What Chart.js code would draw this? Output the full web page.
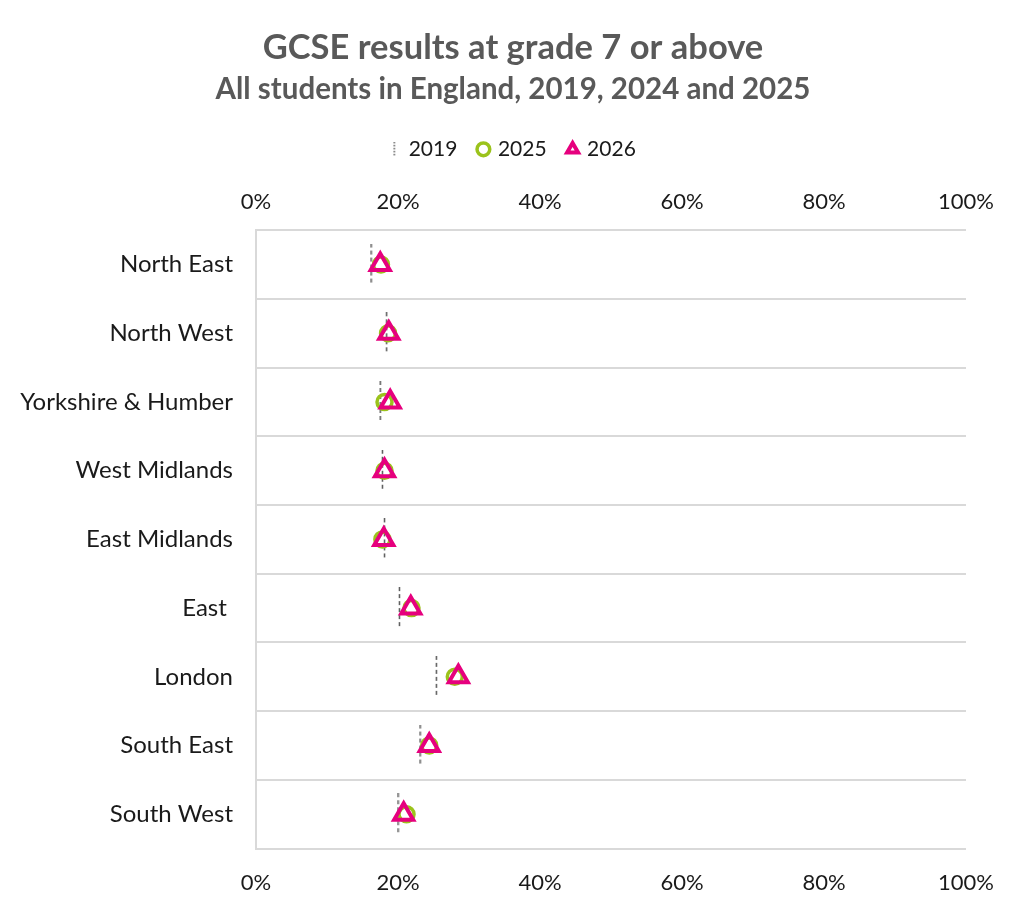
<!DOCTYPE html>
<html>
<head>
<meta charset="utf-8">
<script src="https://cdn.jsdelivr.net/npm/chart.js@4/dist/chart.umd.min.js"></script>
<style>
  html, body { margin: 0; padding: 0; background: #fff; }
  #wrap { width: 1024px; height: 910px; }
</style>
</head>
<body>
<div id="wrap"><canvas id="gcseChart"></canvas></div>
<script>
const regions = ['North East', 'North West', 'Yorkshire & Humber', 'West Midlands', 'East Midlands', 'East ', 'London', 'South East', 'South West'];
const results2019 = [16.2, 18.4, 17.5, 17.8, 18.1, 20.2, 25.4, 23.1, 20.0];
const results2025 = [17.6, 18.6, 18.1, 18.1, 17.8, 21.9, 28.0, 24.4, 21.2];
const results2026 = [17.5, 18.7, 18.9, 18.1, 18.0, 21.8, 28.5, 24.4, 20.8];
const pctTicks = ['0%', '20%', '40%', '60%', '80%', '100%'];

const FONT = 'Lato, "Open Sans", sans-serif';
const LEFT_PAD = 60;

// dashed vertical marker for the 2019 series
function dashMarker(h, dash, gap) {
  const c = document.createElement('canvas');
  c.width = 3;
  c.height = h;
  const g = c.getContext('2d');
  g.strokeStyle = '#595959';
  g.lineWidth = 1.5;
  g.setLineDash([dash, gap]);
  g.beginPath();
  g.moveTo(1.5, 0);
  g.lineTo(1.5, h);
  g.stroke();
  return c;
}
const bigDash = dashMarker(42, 4, 3);
const smallDash = dashMarker(15, 1.5, 1.5);

// a bit of extra room under the legend
const legendGap = {
  id: 'legendGap',
  beforeInit(chart) {
    const fit = chart.legend.fit;
    chart.legend.fit = function () {
      fit.call(this);
      this.height += 12;
    };
  }
};

const pctAxis = (pos, pad) => ({
  type: 'linear',
  position: pos,
  min: 0,
  max: 100,
  afterBuildTicks: axis => { axis.ticks = pctTicks.map((t, i) => ({ value: i * 20 })); },
  ticks: { callback: (v, i) => pctTicks[i], color: '#1a1a1a', font: { family: FONT, size: 22 }, padding: pad },
  grid: { display: false },
  border: { display: false }
});

const ctx = document.getElementById('gcseChart').getContext('2d');
new Chart(ctx, {
  type: 'line',
  data: {
    labels: regions,
    datasets: [
      {
        label: '2019',
        data: results2019,
        showLine: false,
        pointStyle: bigDash,
        borderColor: '#595959',
        backgroundColor: 'transparent',
        order: 2
      },
      {
        label: '2025',
        data: results2025,
        showLine: false,
        pointStyle: 'circle',
        pointRadius: 7.5,
        borderWidth: 3.5,
        borderColor: '#9bc31c',
        backgroundColor: 'transparent',
        order: 1
      },
      {
        label: '2026',
        data: results2026,
        showLine: false,
        pointStyle: 'triangle',
        pointRadius: 11,
        borderWidth: 4,
        borderColor: '#e6007e',
        backgroundColor: 'transparent',
        order: 0
      }
    ]
  },
  options: {
    indexAxis: 'y',
    responsive: true,
    maintainAspectRatio: false,
    animation: false,
    layout: { padding: { left: LEFT_PAD, right: 58, bottom: 1 } },
    scales: {
      x: pctAxis('bottom', 13),
      x2: pctAxis('top', 7),
      y: {
        type: 'category',
        offset: true,
        afterFit: scale => {
          scale.width = 256 - LEFT_PAD;
          // long labels run past the narrowed axis box, so do not clip them
          scale._computeLabelArea = () => null;
        },
        ticks: { color: '#1a1a1a', font: { family: FONT, size: 24 }, padding: 23 },
        grid: { offset: true, color: '#d9d9d9', lineWidth: 2, drawTicks: false },
        border: { color: '#d9d9d9', width: 2 }
      }
    },
    plugins: {
      title: {
        display: true,
        text: 'GCSE results at grade 7 or above',
        color: '#595959',
        font: { family: FONT, size: 34.5, weight: 'bold' },
        padding: { top: 27, bottom: 3 }
      },
      subtitle: {
        display: true,
        text: 'All students in England, 2019, 2024 and 2025',
        color: '#595959',
        font: { family: FONT, size: 29.5, weight: 'bold' },
        padding: { bottom: 10 }
      },
      legend: {
        position: 'top',
        labels: {
          usePointStyle: true,
          boxHeight: 9,
          boxWidth: 8,
          color: '#1a1a1a',
          font: { family: FONT, size: 21 },
          padding: 22,
          generateLabels: chart => {
            const items = Chart.defaults.plugins.legend.labels.generateLabels(chart);
            items.sort((a, b) => a.datasetIndex - b.datasetIndex);
            items[0].pointStyle = smallDash;
            return items;
          }
        }
      },
      tooltip: { enabled: false }
    }
  },
  plugins: [legendGap]
});
</script>
</body>
</html>
